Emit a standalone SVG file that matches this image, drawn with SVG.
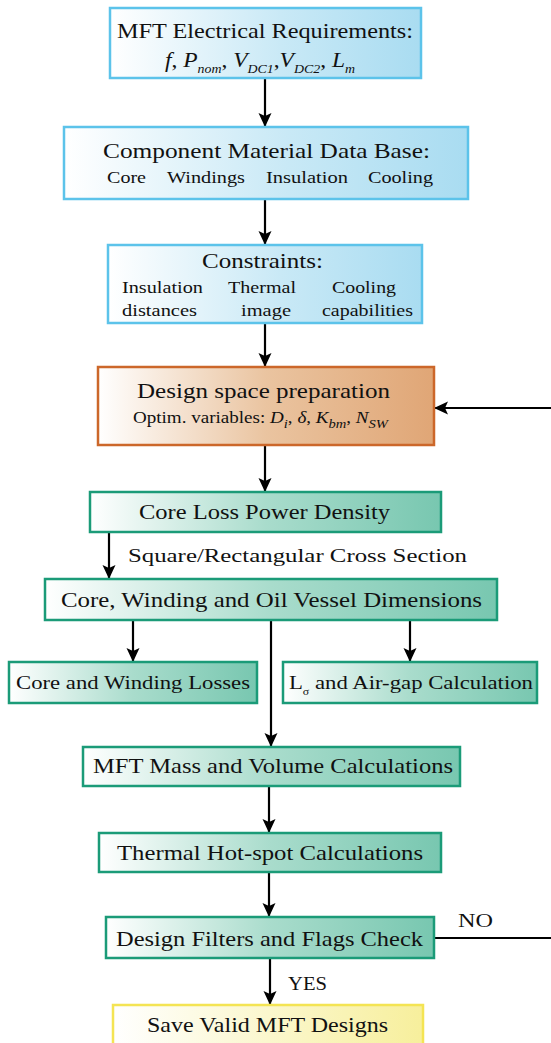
<svg xmlns="http://www.w3.org/2000/svg" width="551" height="1043" viewBox="0 0 551 1043">
  <defs>
    <linearGradient id="gBlue" x1="0" y1="0" x2="1" y2="0">
      <stop offset="0" stop-color="#ffffff"/>
      <stop offset="0.55" stop-color="#c9e9f6"/>
      <stop offset="1" stop-color="#a9dcf1"/>
    </linearGradient>
    <linearGradient id="gOrange" x1="0" y1="0" x2="1" y2="0">
      <stop offset="0" stop-color="#ffffff"/>
      <stop offset="0.5" stop-color="#eac4a0"/>
      <stop offset="1" stop-color="#e0a676"/>
    </linearGradient>
    <linearGradient id="gTeal" x1="0" y1="0" x2="1" y2="0">
      <stop offset="0" stop-color="#ffffff"/>
      <stop offset="0.5" stop-color="#a9dccc"/>
      <stop offset="1" stop-color="#78c7b0"/>
    </linearGradient>
    <linearGradient id="gYellow" x1="0" y1="0" x2="1" y2="0">
      <stop offset="0" stop-color="#ffffff"/>
      <stop offset="1" stop-color="#f7ef9c"/>
    </linearGradient>
    <marker id="arrow" markerUnits="userSpaceOnUse" markerWidth="14" markerHeight="14" viewBox="0 0 14 14" refX="13" refY="7" orient="auto">
      <path d="M0,0.5 L14,7 L0,13.5 L3,7 Z" fill="#000"/>
    </marker>
    <style>
      text { font-family: "Liberation Serif", "Times New Roman", serif; fill: #111; }
      .big { font-size: 22px; }
      .mid { font-size: 19px; }
      .small { font-size: 17px; }
      .it { font-style: italic; }
      .sub { font-size: 13px; font-style: italic; }
      .blue { fill: url(#gBlue); stroke: #5cc3ea; stroke-width: 2.5; }
      .orange { fill: url(#gOrange); stroke: #cc672a; stroke-width: 2.5; }
      .teal { fill: url(#gTeal); stroke: #1b9b78; stroke-width: 2.5; }
      .yellow { fill: url(#gYellow); stroke: #f4e453; stroke-width: 2.5; }
      .link { stroke: #000; stroke-width: 2.2; fill: none; }
    </style>
  </defs>

  <!-- connectors -->
  <g id="connectors">
    <line class="link" x1="265" y1="78" x2="265" y2="126" marker-end="url(#arrow)"/>
    <line class="link" x1="265" y1="199" x2="265" y2="244" marker-end="url(#arrow)"/>
    <line class="link" x1="265" y1="323" x2="265" y2="366" marker-end="url(#arrow)"/>
    <line class="link" x1="265" y1="445" x2="265" y2="491" marker-end="url(#arrow)"/>
    <line class="link" x1="551" y1="408" x2="435" y2="408" marker-end="url(#arrow)"/>
    <line class="link" x1="109" y1="532" x2="109" y2="578" marker-end="url(#arrow)"/>
    <line class="link" x1="133" y1="620" x2="133" y2="661" marker-end="url(#arrow)"/>
    <line class="link" x1="410" y1="620" x2="410" y2="661" marker-end="url(#arrow)"/>
    <line class="link" x1="271" y1="620" x2="271" y2="746" marker-end="url(#arrow)"/>
    <line class="link" x1="269" y1="786" x2="269" y2="832" marker-end="url(#arrow)"/>
    <line class="link" x1="269" y1="872" x2="269" y2="916" marker-end="url(#arrow)"/>
    <line class="link" x1="270" y1="958" x2="270" y2="1004" marker-end="url(#arrow)"/>
    <line class="link" x1="434" y1="938" x2="551" y2="938"/>
    <text class="mid" x="128" y="562" textLength="339" lengthAdjust="spacingAndGlyphs">Square/Rectangular Cross Section</text>
    <text class="mid" x="458" y="927" textLength="35" lengthAdjust="spacingAndGlyphs">NO</text>
    <text class="mid" x="288" y="990" textLength="39" lengthAdjust="spacingAndGlyphs">YES</text>
  </g>

  <g id="node-requirements">
    <rect class="blue" x="110" y="8" width="311" height="70"/>
    <text class="big" x="117" y="38" textLength="296" lengthAdjust="spacingAndGlyphs">MFT Electrical Requirements:</text>
    <text class="big" x="165" y="67" textLength="190" lengthAdjust="spacingAndGlyphs"><tspan class="it">f</tspan>, <tspan class="it">P</tspan><tspan class="sub" dy="6">nom</tspan><tspan dy="-6">, </tspan><tspan class="it">V</tspan><tspan class="sub" dy="6">DC1</tspan><tspan dy="-6">,</tspan><tspan class="it">V</tspan><tspan class="sub" dy="6">DC2</tspan><tspan dy="-6">, </tspan><tspan class="it">L</tspan><tspan class="sub" dy="6">m</tspan></text>
  </g>

  <g id="node-database">
    <rect class="blue" x="64" y="127" width="404" height="72"/>
    <text class="big" x="103" y="158" textLength="327" lengthAdjust="spacingAndGlyphs">Component Material Data Base:</text>
    <text class="small" x="107" y="183" textLength="39" lengthAdjust="spacingAndGlyphs">Core</text>
    <text class="small" x="167" y="183" textLength="78" lengthAdjust="spacingAndGlyphs">Windings</text>
    <text class="small" x="266" y="183" textLength="82" lengthAdjust="spacingAndGlyphs">Insulation</text>
    <text class="small" x="368" y="183" textLength="65" lengthAdjust="spacingAndGlyphs">Cooling</text>
  </g>

  <g id="node-constraints">
    <rect class="blue" x="108" y="245" width="314" height="78"/>
    <text class="big" x="202" y="268" textLength="121" lengthAdjust="spacingAndGlyphs">Constraints:</text>
    <text class="small" x="122" y="293" textLength="81" lengthAdjust="spacingAndGlyphs">Insulation</text>
    <text class="small" x="122" y="316" textLength="75" lengthAdjust="spacingAndGlyphs">distances</text>
    <text class="small" x="228" y="293" textLength="68" lengthAdjust="spacingAndGlyphs">Thermal</text>
    <text class="small" x="241" y="316" textLength="50" lengthAdjust="spacingAndGlyphs">image</text>
    <text class="small" x="332" y="293" textLength="64" lengthAdjust="spacingAndGlyphs">Cooling</text>
    <text class="small" x="322" y="316" textLength="91" lengthAdjust="spacingAndGlyphs">capabilities</text>
  </g>

  <g id="node-design-space">
    <rect class="orange" x="98" y="367" width="336" height="78"/>
    <text class="big" x="137" y="398" textLength="253" lengthAdjust="spacingAndGlyphs">Design space preparation</text>
    <text class="small" x="133" y="423" textLength="255" lengthAdjust="spacingAndGlyphs">Optim. variables: <tspan class="it">D</tspan><tspan class="sub" dy="5">i</tspan><tspan dy="-5">, </tspan><tspan class="it">δ</tspan>, <tspan class="it">K</tspan><tspan class="sub" dy="5">bm</tspan><tspan dy="-5">, </tspan><tspan class="it">N</tspan><tspan class="sub" dy="5">SW</tspan></text>
  </g>

  <g id="node-core-loss">
    <rect class="teal" x="90" y="492" width="351" height="40"/>
    <text class="big" x="139" y="519" textLength="251" lengthAdjust="spacingAndGlyphs">Core Loss Power Density</text>
  </g>

  <g id="node-dimensions">
    <rect class="teal" x="45" y="579" width="452" height="41"/>
    <text class="big" x="61" y="607" textLength="421" lengthAdjust="spacingAndGlyphs">Core, Winding and Oil Vessel Dimensions</text>
  </g>

  <g id="node-losses">
    <rect class="teal" x="9" y="662" width="248" height="41"/>
    <text class="mid" x="16" y="689" textLength="234" lengthAdjust="spacingAndGlyphs">Core and Winding Losses</text>
  </g>

  <g id="node-airgap">
    <rect class="teal" x="283" y="662" width="254" height="41"/>
    <text class="mid" x="289" y="689" textLength="244" lengthAdjust="spacingAndGlyphs">L<tspan font-size="10" dy="6">σ</tspan><tspan dy="-6"> and Air-gap Calculation</tspan></text>
  </g>

  <g id="node-mass">
    <rect class="teal" x="83" y="747" width="377" height="39"/>
    <text class="big" x="93" y="773" textLength="360" lengthAdjust="spacingAndGlyphs">MFT Mass and Volume Calculations</text>
  </g>

  <g id="node-thermal">
    <rect class="teal" x="99" y="833" width="342" height="39"/>
    <text class="big" x="117" y="860" textLength="306" lengthAdjust="spacingAndGlyphs">Thermal Hot-spot Calculations</text>
  </g>

  <g id="node-filters">
    <rect class="teal" x="106" y="917" width="328" height="41"/>
    <text class="big" x="116" y="946" textLength="307" lengthAdjust="spacingAndGlyphs">Design Filters and Flags Check</text>
  </g>

  <g id="node-save">
    <rect class="yellow" x="113" y="1005" width="310" height="50"/>
    <text class="big" x="147" y="1032" textLength="241" lengthAdjust="spacingAndGlyphs">Save Valid MFT Designs</text>
  </g>
</svg>
